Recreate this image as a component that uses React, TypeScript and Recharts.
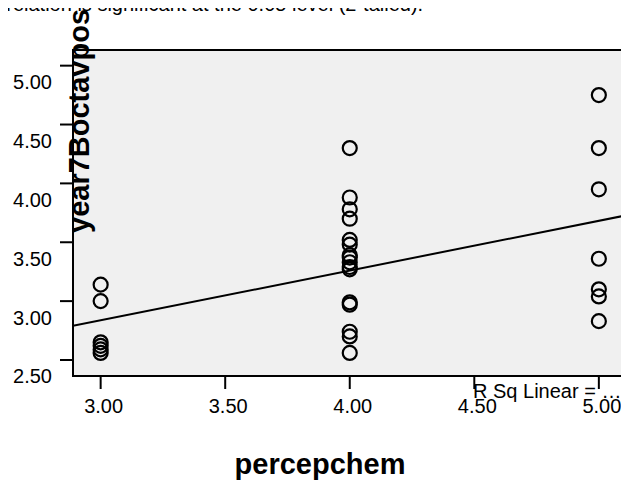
import React from "react";
import { ScatterChart, Scatter, XAxis, YAxis, CartesianGrid, ReferenceArea } from "recharts";

// x values (percepchem) and y values (year7Boctavpos), one list per column
const chem3Values = [3.14, 3.0, 2.65, 2.62, 2.59, 2.56];
const chem4Values = [4.3, 3.88, 3.78, 3.7, 3.52, 3.48, 3.39, 3.37, 3.33, 3.29, 3.27, 2.99, 2.97, 2.74, 2.7, 2.56];
const chem5Values = [4.75, 4.3, 3.95, 3.36, 3.1, 3.04, 2.83];

// fit line end points
const fitX = [2.889, 5.113];
const fitY = [2.79, 3.73];

const xTicks = [3, 3.5, 4, 4.5, 5];
const yTicks = [2.5, 3, 3.5, 4, 4.5, 5];
const xDomain = [2.889, 5.113];
const yDomain = [2.364, 5.133];

const points = [
  ...chem3Values.map((y) => ({ x: 3, y })),
  ...chem4Values.map((y) => ({ x: 4, y })),
  ...chem5Values.map((y) => ({ x: 5, y })),
];
const fitLine = fitX.map((x, i) => ({ x, y: fitY[i] }));

const FONT = "'Liberation Sans', Arial, sans-serif";

const Ring = (props: any) => {
  const { cx, cy } = props;
  return <circle cx={cx} cy={cy} r={7} fill="none" stroke="#000" strokeWidth={2.2} />;
};

const YTick = ({ y, payload }: any) => (
  <text x={52} y={y + 23.5} textAnchor="end" fontSize={20} fontFamily={FONT} fill="#000">
    {payload.value.toFixed(2)}
  </text>
);

const XTick = ({ x, payload }: any) => (
  <text x={x + 3} y={413} textAnchor="middle" fontSize={20} fontFamily={FONT} fill="#000">
    {payload.value.toFixed(2)}
  </text>
);

export default function App() {
  return (
    <div
      style={{
        position: "relative",
        width: 629,
        height: 492,
        margin: -8,
        overflow: "hidden",
        background: "#fff",
        fontFamily: FONT,
      }}
    >
      <ScatterChart width={629} height={492} margin={{ top: 50, right: 2, bottom: 0, left: 0 }}>
        <CartesianGrid fill="#f0f0f0" stroke="none" />
        <XAxis
          type="number"
          dataKey="x"
          domain={xDomain}
          ticks={xTicks}
          height={116}
          tickSize={13}
          axisLine={false}
          tickLine={{ stroke: "#000", strokeWidth: 2 }}
          tick={<XTick />}
          allowDataOverflow
          label={{
            content: () => (
              <text x={320} y={474} textAnchor="middle" fontSize={29} fontWeight="bold" fontFamily={FONT} fill="#000">
                percepchem
              </text>
            ),
          }}
        />
        <YAxis
          type="number"
          dataKey="y"
          domain={yDomain}
          ticks={yTicks}
          width={73}
          tickSize={13}
          axisLine={false}
          tickLine={{ stroke: "#000", strokeWidth: 2 }}
          tick={<YTick />}
          allowDataOverflow
          label={{
            content: () => (
              <text
                x={0}
                y={0}
                transform="translate(89 233) rotate(-90)"
                fontSize={29}
                fontWeight="bold"
                fontFamily={FONT}
                fill="#000"
              >
                year7Boctavpos
              </text>
            ),
          }}
        />
        <ReferenceArea
          x1={xDomain[0]}
          x2={xDomain[1]}
          y1={yDomain[0]}
          y2={yDomain[1]}
          fill="none"
          stroke="#000"
          strokeWidth={2}
          ifOverflow="extendDomain"
        />
        <Scatter
          data={fitLine}
          line={{ stroke: "#000", strokeWidth: 2 }}
          shape={() => null}
          isAnimationActive={false}
        />
        <Scatter data={points} shape={<Ring />} isAnimationActive={false} />
      </ScatterChart>
      <div
        style={{
          position: "absolute",
          left: -26,
          top: -6,
          zIndex: 2,
          fontSize: 20,
          lineHeight: "20px",
          whiteSpace: "nowrap",
          color: "#000",
        }}
      >
        Correlation is significant at the 0.05 level (2-tailed).
      </div>
      <div
        style={{
          position: "absolute",
          left: 473,
          top: 381,
          zIndex: 2,
          fontSize: 20,
          lineHeight: "20px",
          whiteSpace: "nowrap",
          color: "#000",
        }}
      >
        R Sq Linear = …
      </div>
    </div>
  );
}
